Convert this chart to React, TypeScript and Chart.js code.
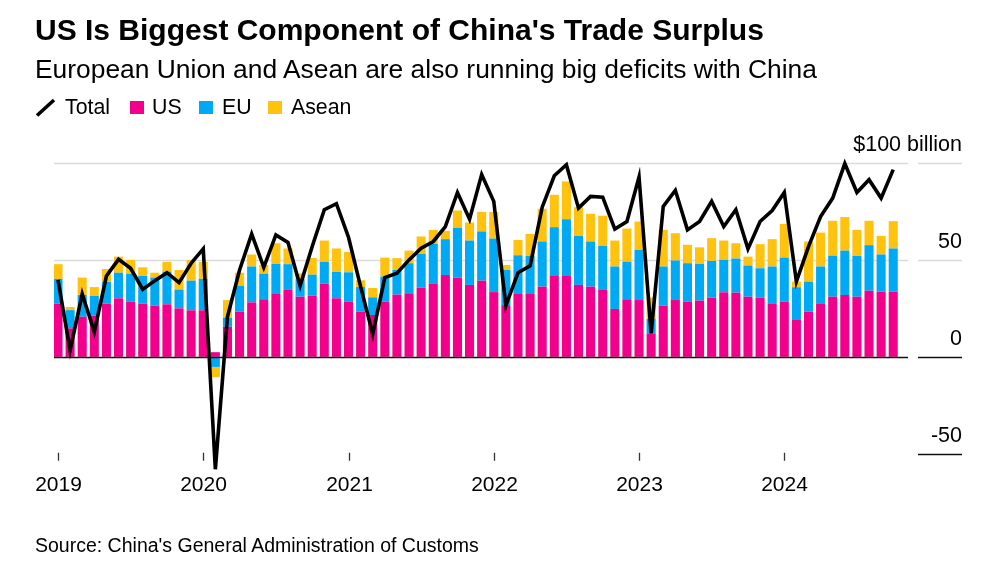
import React, { useEffect, useRef } from 'react';
import { Chart, registerables } from 'chart.js';

Chart.register(...registerables);

const FONT = '"Liberation Sans", Arial, Helvetica, sans-serif';

const years = ['2019', '2020', '2021', '2022', '2023', '2024'];
const monthNames = ['Jan', 'Feb', 'Mar', 'Apr', 'May', 'Jun', 'Jul', 'Aug', 'Sep', 'Oct', 'Nov', 'Dec'];
const months = years.flatMap((y) => monthNames.map((m) => `${m} ${y}`)).slice(0, 70);

// $ billion, China's monthly trade balance with each partner
const us = [
  27.4, 14.7, 20.7, 21.2, 27.4, 30.2, 28.4, 27.4, 26.4, 27.1, 25.0, 24.0,
  24.0, 2.4, 15.5, 23.3, 28.1, 29.7, 32.4, 34.5, 31.0, 31.6, 37.8, 30.2,
  28.4, 23.3, 21.6, 28.4, 32.1, 32.8, 35.7, 37.9, 42.2, 40.9, 37.1, 39.3,
  33.4, 26.7, 32.4, 32.4, 36.2, 41.7, 41.7, 37.1, 36.2, 34.5, 24.7, 29.7,
  29.3, 12.1, 26.4, 29.3, 28.4, 29.0, 30.5, 33.3, 33.1, 31.0, 30.5, 27.6,
  28.4, 19.0, 23.3, 27.6, 31.0, 31.9, 31.0, 34.1, 33.6, 33.6,
];
const eu = [
  12.8, 9.4, 11.2, 10.2, 11.2, 13.2, 14.4, 14.3, 14.5, 16.9, 9.7, 15.3,
  16.2, -5.2, 4.7, 13.4, 18.5, 13.2, 15.5, 13.3, 9.0, 10.8, 11.2, 13.6,
  15.2, 12.7, 9.1, 13.0, 12.7, 15.5, 17.4, 20.4, 18.5, 25.7, 22.9, 25.4,
  27.6, 18.1, 20.0, 19.7, 23.3, 25.2, 29.3, 25.3, 23.3, 22.7, 21.9, 19.4,
  25.9, 7.5, 20.2, 20.4, 19.9, 18.9, 19.0, 16.7, 17.6, 16.1, 15.2, 19.0,
  22.8, 16.9, 15.5, 19.0, 21.2, 22.9, 21.1, 23.5, 19.2, 22.3,
];
const asean = [
  7.6, 1.6, 9.0, 4.6, 6.7, 8.3, 7.2, 4.5, 2.5, 5.0, 10.1, 10.7,
  8.8, -5.3, 9.1, 6.7, 6.2, 4.5, 10.7, 8.1, 3.0, 8.6, 11.0, 12.1,
  10.5, 3.5, 4.8, 9.8, 6.1, 6.5, 9.0, 7.2, 4.3, 8.9, 9.3, 10.1,
  13.7, 2.6, 7.9, 11.3, 16.9, 16.7, 19.5, 14.8, 14.3, 15.6, 13.4, 17.1,
  14.6, 11.0, 18.9, 14.1, 9.5, 8.6, 11.7, 10.0, 7.9, 4.6, 12.4, 14.1,
  17.4, 2.9, 20.7, 17.5, 18.0, 17.3, 13.4, 12.6, 9.6, 14.1,
];
const total = [
  39.7, 3.4, 32.4, 12.9, 41.7, 50.3, 45.7, 34.8, 39.3, 43.4, 38.3, 48.3,
  55.7, -58.0, 20.7, 44.8, 63.4, 46.2, 62.9, 59.0, 36.6, 56.9, 75.9, 79.0,
  61.7, 36.2, 11.7, 40.9, 43.1, 50.0, 56.0, 59.5, 67.2, 84.8, 71.0, 94.0,
  80.2, 26.4, 43.4, 46.9, 77.2, 93.4, 99.1, 76.7, 82.8, 82.4, 65.9, 69.8,
  92.8, 12.1, 77.6, 85.9, 65.5, 69.8, 80.2, 67.2, 75.9, 55.7, 69.8, 75.5,
  84.8, 38.8, 56.9, 72.4, 81.9, 99.7, 84.8, 91.4, 81.9, 96.6,
];

const yTickValues = [100, 50, 0, -50];
const yTickLabels = ['$100 billion', '50', '0', '-50'];

const PINK = '#F2008C';
const BLUE = '#00A9F4';
const YELLOW = '#FFC20E';

const toPoints = (arr: number[]) => arr.map((v, i) => ({ x: i, y: v, label: months[i] }));

const decorPlugin = {
  id: 'decor',
  beforeDatasetsDraw(chart: any) {
    const { ctx, chartArea, scales } = chart;
    const y = scales.y;
    ctx.save();
    yTickValues.forEach((v) => {
      if (v <= 0) return;
      const py = Math.round(y.getPixelForValue(v)) + 0.5;
      ctx.strokeStyle = '#DADADA';
      ctx.lineWidth = 1.5;
      ctx.beginPath();
      ctx.moveTo(chartArea.left, py);
      ctx.lineTo(chartArea.right, py);
      ctx.stroke();
    });
    ctx.restore();
  },
  afterDatasetsDraw(chart: any) {
    const { ctx, chartArea, scales } = chart;
    const y = scales.y;
    const x = scales.x;
    ctx.save();
    const p0 = Math.round(y.getPixelForValue(0)) + 0.5;
    ctx.strokeStyle = '#111';
    ctx.lineWidth = 1.5;
    ctx.beginPath();
    ctx.moveTo(chartArea.left, p0);
    ctx.lineTo(chartArea.right, p0);
    ctx.stroke();

    const segL = chartArea.right + 10;
    const segR = chartArea.right + 54;
    ctx.font = `21.5px ${FONT}`;
    ctx.textAlign = 'right';
    ctx.textBaseline = 'alphabetic';
    yTickValues.forEach((v, i) => {
      const py = Math.round(y.getPixelForValue(v)) + 0.5;
      ctx.strokeStyle = v > 0 ? '#DADADA' : '#111';
      ctx.lineWidth = 1.5;
      ctx.beginPath();
      ctx.moveTo(segL, py);
      ctx.lineTo(segR, py);
      ctx.stroke();
      ctx.fillStyle = '#000';
      ctx.fillText(yTickLabels[i], segR, py - 12.5);
    });

    const tickTop = y.getPixelForValue(-50) - 1;
    ctx.font = `21px ${FONT}`;
    ctx.textAlign = 'center';
    years.forEach((yr, k) => {
      const px = Math.round(x.getPixelForValue(k * 12)) + 0.5;
      ctx.strokeStyle = '#333';
      ctx.lineWidth = 1.3;
      ctx.beginPath();
      ctx.moveTo(px, tickTop);
      ctx.lineTo(px, tickTop + 8);
      ctx.stroke();
      ctx.fillStyle = '#000';
      ctx.fillText(yr, px, tickTop + 38);
    });
    ctx.restore();
  },
};

function TradeChart() {
  const ref = useRef<HTMLCanvasElement | null>(null);
  useEffect(() => {
    if (!ref.current) return;
    const barCommon = {
      type: 'bar' as const,
      stack: 'parts',
      order: 1,
      barPercentage: 0.75,
      categoryPercentage: 1,
      borderWidth: 0,
    };
    const chart = new Chart(ref.current, {
      type: 'bar',
      data: {
        datasets: [
          {
            type: 'line',
            label: 'Total',
            data: toPoints(total),
            borderColor: '#000',
            backgroundColor: '#000',
            borderWidth: 3.6,
            pointRadius: 0,
            tension: 0,
            stack: 'total',
            order: 0,
            clip: false,
            borderJoinStyle: 'miter',
          } as any,
          { ...barCommon, label: 'US', data: toPoints(us), backgroundColor: PINK },
          { ...barCommon, label: 'EU', data: toPoints(eu), backgroundColor: BLUE },
          { ...barCommon, label: 'Asean', data: toPoints(asean), backgroundColor: YELLOW },
        ],
      },
      options: {
        animation: false,
        responsive: false,
        maintainAspectRatio: false,
        layout: { padding: { left: 54, right: 91, top: 163, bottom: 93 } },
        scales: {
          x: { type: 'linear', display: false, offset: false, min: -0.33, max: 70.22, grid: { offset: false } },
          y: { display: false, min: -62, max: 100, stacked: true },
        },
        plugins: { legend: { display: false }, tooltip: { enabled: false } },
      },
      plugins: [decorPlugin],
    } as any);
    return () => chart.destroy();
  }, []);
  return <canvas ref={ref} width={999} height={570} style={{ position: 'absolute', left: 0, top: 0, width: 999, height: 570 }} />;
}

const legendItems = [
  { label: 'US', color: PINK, sq: 130, tx: 152 },
  { label: 'EU', color: BLUE, sq: 199, tx: 222 },
  { label: 'Asean', color: YELLOW, sq: 268, tx: 291 },
];

export default function App() {
  const text = { position: 'absolute' as const, margin: 0, fontFamily: FONT, color: '#000', lineHeight: 1, whiteSpace: 'nowrap' as const };
  return (
    <div style={{ position: 'absolute', left: 0, top: 0, width: 999, height: 570, background: '#fff', overflow: 'hidden' }}>
      <TradeChart />
      <div style={{ ...text, left: 35, top: 15.3, fontSize: 30, fontWeight: 700 }}>
        US Is Biggest Component of China's Trade Surplus
      </div>
      <div style={{ ...text, left: 35, top: 56, fontSize: 26.4 }}>
        European Union and Asean are also running big deficits with China
      </div>
      <svg style={{ position: 'absolute', left: 0, top: 0 }} width={70} height={130}>
        <line x1={37} y1={115.5} x2={54} y2={100} stroke="#000" strokeWidth={3.6} />
      </svg>
      <div style={{ ...text, left: 65, top: 97, fontSize: 21.3 }}>Total</div>
      {legendItems.map((it) => (
        <React.Fragment key={it.label}>
          <div style={{ position: 'absolute', left: it.sq, top: 101, width: 14, height: 13, background: it.color }} />
          <div style={{ ...text, left: it.tx, top: 97, fontSize: 21.3 }}>{it.label}</div>
        </React.Fragment>
      ))}
      <div style={{ ...text, left: 35, top: 536, fontSize: 19.5 }}>
        Source: China's General Administration of Customs
      </div>
    </div>
  );
}
